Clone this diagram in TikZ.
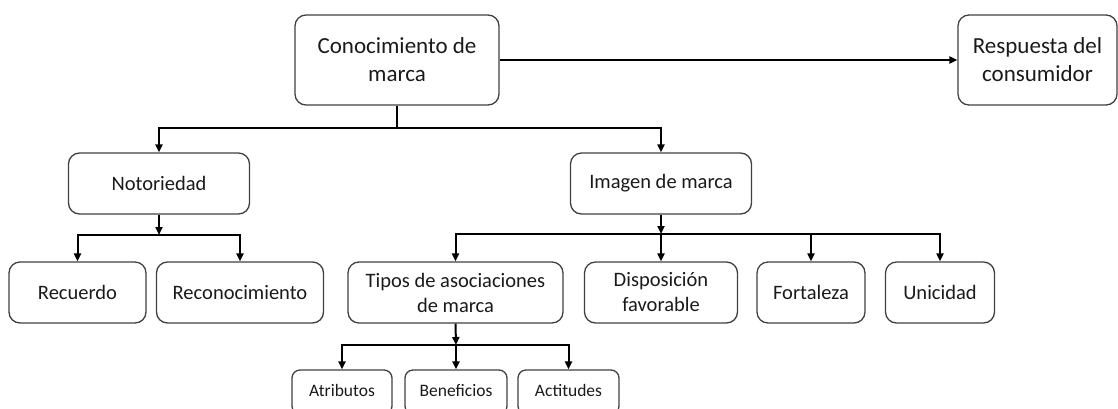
\documentclass[tikz,border=0pt]{standalone}
\usepackage{fontspec}
\setmainfont{Carlito}
\usetikzlibrary{arrows.meta}
\definecolor{boxline}{HTML}{404040}
\definecolor{txt}{HTML}{1A1A1A}
\tikzset{
  box/.style={draw=boxline, line width=1.3pt, rounded corners=11pt, inner sep=0pt, align=center, text=txt},
  bigbox/.style={box, font=\fontsize{23}{28}\selectfont},
  midbox/.style={box, font=\fontsize{20.5}{25}\selectfont},
  smallbox/.style={box, rounded corners=8pt, font=\fontsize{17.5}{21}\selectfont, text height=12pt, text depth=3pt},
  conn/.style={line width=2pt, black},
  arr/.style={conn, -{Triangle[length=8pt,width=7pt]}},
}
\begin{document}
\begin{tikzpicture}[x=1pt,y=-1pt]
\useasboundingbox (0,0) rectangle (1118,408);
\clip (0,0) rectangle (1118,408);
% level 0
\node[bigbox, minimum width=204pt, minimum height=90pt] (c) at (397,60) {Conocimiento de\\marca};
\node[bigbox, minimum width=159pt, minimum height=90pt] (r) at (1037.5,60) {Respuesta del\\consumidor};
% level 1
\node[midbox, minimum width=181pt, minimum height=61pt] (n) at (159,183.5) {Notoriedad};
\node[midbox, minimum width=181pt, minimum height=61pt] (im) at (661,183.5) {Imagen de marca};
% level 2
\node[midbox, minimum width=137pt, minimum height=61pt] (rec) at (77.5,292.5) {Recuerdo};
\node[midbox, minimum width=167pt, minimum height=61pt] (reco) at (240,292.5) {Reconocimiento};
\node[midbox, minimum width=215pt, minimum height=61pt] (tip) at (455.5,292.5) {Tipos de asociaciones\\de marca};
\node[midbox, minimum width=153pt, minimum height=61pt] (dis) at (661,292.5) {Disposición\\favorable};
\node[midbox, minimum width=108pt, minimum height=61pt] (fort) at (811,292.5) {Fortaleza};
\node[midbox, minimum width=109pt, minimum height=61pt] (uni) at (940,292.5) {Unicidad};
% level 3
\node[smallbox, minimum width=100pt, minimum height=44pt] (atr) at (342,392) {Atributos};
\node[smallbox, minimum width=102pt, minimum height=44pt] (ben) at (456,392) {Beneficios};
\node[smallbox, minimum width=101pt, minimum height=44pt] (act) at (568.5,392) {Actitudes};
% junctions
\coordinate (j0) at (397,128);
\coordinate (j1) at (159,235);
\coordinate (j2) at (661,234);
\coordinate (j3) at (456,345);
% connectors
\draw[arr] (c.east) -- (r.west);
\draw[conn] (c.south) -- (j0);
\draw[arr] (j0) -| (n.north);
\draw[arr] (j0) -| (im.north);
\draw[arr] (n.south) -- (j1);
\draw[arr] (j1) -| (rec.north);
\draw[arr] (j1) -| (reco.north);
\draw[arr] (im.south) -- (j2);
\draw[arr] (j2) -| (tip.north);
\draw[arr] (j2) -- (dis.north);
\draw[arr] (j2) -| (fort.north);
\draw[arr] (j2) -| (uni.north);
\draw[arr] (tip.south) -- (j3);
\draw[arr] (j3) -| (atr.north);
\draw[arr] (j3) -- (ben.north);
\draw[arr] (j3) -| (act.north);
\end{tikzpicture}
\end{document}
